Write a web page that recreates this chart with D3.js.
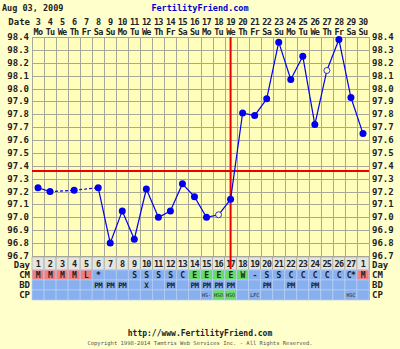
<!DOCTYPE html>
<head>
<meta charset="utf-8">
<script src="https://d3js.org/d3.v7.min.js"></script>
<style>
  body { margin: 0; background: #ffffcc; }
  text { font-family: "DejaVu Sans Mono", monospace; font-weight: bold; font-size: 9px; fill: #222; }
  .col { font-size: 8.5px; letter-spacing: -0.7px; }
</style>
</head>
<body>
<svg width="400" height="349"></svg>
<script>
// chart values
var dates = [3, 4, 5, 6, 7, 8, 9, 10, 11, 12, 13, 14, 15, 16, 17, 18, 19, 20, 21, 22, 23, 24, 25, 26, 27, 28, 29, 30];
var weekdays = ["Mo", "Tu", "We", "Th", "Fr", "Sa", "Su", "Mo", "Tu", "We", "Th", "Fr", "Sa", "Su",
                "Mo", "Tu", "We", "Th", "Fr", "Sa", "Su", "Mo", "Tu", "We", "Th", "Fr", "Sa", "Su"];
var cycleDays = [1, 2, 3, 4, 5, 6, 7, 8, 9, 10, 11, 12, 13, 14, 15, 16, 17, 18, 19, 20, 21, 22, 23, 24, 25, 26, 27, 1];
var temps = [97.23, 97.20, null, 97.21, null, 97.23, 96.80, 97.05, 96.83, 97.22, 97.00, 97.05, 97.26, 97.16,
             97.00, 97.02, 97.14, 97.81, 97.79, 97.92, 98.36, 98.07, 98.25, 97.72, 98.14, 98.38, 97.93, 97.65];
var openPoints = [16, 25];   // cycle days drawn with hollow marker
var cmCodes = ["M", "M", "M", "M", "L", "*", "", "", "S", "S", "S", "S", "C", "E",
               "E", "E", "E", "W", "-", "S", "S", "C", "C", "C", "C", "C", "C*", "M"];
var bdCodes = ["", "", "", "", "", "PM", "PM", "PM", "", "X", "", "PM", "", "PM",
               "PM", "PM", "PM", "", "", "PM", "", "PM", "", "PM", "", "", "", ""];
var cpCodes = ["", "", "", "", "", "", "", "", "", "", "", "", "", "",
               "HS-", "HSO", "HSO", "", "LFC", "", "", "", "", "", "", "", "HSC", ""];
var yTicks = [96.7, 96.8, 96.9, 97.0, 97.1, 97.2, 97.3, 97.4, 97.5, 97.6, 97.7, 97.8, 97.9, 98.0, 98.1, 98.2, 98.3, 98.4];
var coverline = 97.36;
var ovulationDay = 17;

var svg = d3.select("svg");
var plot = { left: 32, right: 369, top: 37, bottom: 256 };

var x = d3.scaleBand().domain(d3.range(dates.length)).range([plot.left, plot.right]);
var y = d3.scaleLinear().domain([96.7, 98.4]).range([plot.bottom, plot.top]);
var cx = function(i) { return x(i) + x.bandwidth() / 2; };

// header
svg.append("text").attr("x", 2).attr("y", 11).style("font-size", "8.5px").text("Aug 03, 2009");
svg.append("text").attr("x", 200).attr("y", 11).attr("text-anchor", "middle")
  .style("font-size", "8.5px").style("fill", "#0000cc").text("FertilityFriend.com");

// plot background + grid
svg.append("rect").attr("x", plot.left).attr("y", plot.top)
  .attr("width", plot.right - plot.left).attr("height", plot.bottom - plot.top).attr("fill", "#ffffbb");

var grid = svg.append("g").attr("stroke", "#a8a898").attr("stroke-width", 1);
grid.selectAll(".h").data(yTicks).enter().append("line")
  .attr("x1", plot.left).attr("x2", plot.right)
  .attr("y1", function(d) { return Math.round(y(d)) + 0.5; })
  .attr("y2", function(d) { return Math.round(y(d)) + 0.5; });
grid.selectAll(".v").data(d3.range(dates.length + 1)).enter().append("line")
  .attr("x1", function(d) { return Math.round(plot.left + d * x.bandwidth()) + 0.5; })
  .attr("x2", function(d) { return Math.round(plot.left + d * x.bandwidth()) + 0.5; })
  .attr("y1", plot.top).attr("y2", 300);

// y labels both sides
yTicks.forEach(function(t) {
  svg.append("text").attr("x", 29).attr("y", y(t) + 3).attr("text-anchor", "end").text(t.toFixed(1));
  svg.append("text").attr("x", 372).attr("y", y(t) + 3).text(t.toFixed(1));
});

// date header
svg.append("text").attr("x", 30).attr("y", 25).attr("text-anchor", "end").text("Date");
svg.selectAll(".date").data(dates).enter().append("text").attr("class", "col")
  .attr("x", function(d, i) { return cx(i); }).attr("y", 25).attr("text-anchor", "middle").text(function(d) { return d; });
svg.selectAll(".dow").data(weekdays).enter().append("text").attr("class", "col")
  .attr("x", function(d, i) { return cx(i); }).attr("y", 35).attr("text-anchor", "middle").text(function(d) { return d; });

// lower rows
var rows = [
  { name: "Day", top: 257, h: 13 },
  { name: "CM", top: 270, h: 10 },
  { name: "BD", top: 280, h: 10 },
  { name: "CP", top: 290, h: 10 }
];
function cellFill(row, i) {
  if (row === "Day") return "#e4e4e0";
  if (row === "CM") {
    if (cmCodes[i] === "M" || cmCodes[i] === "L") return "#f08080";
    if (cmCodes[i] === "E" || cmCodes[i] === "W") return "#66dd66";
  }
  if (row === "CP" && cpCodes[i] === "HSO") return "#66dd66";
  return "#88b0ee";
}
rows.forEach(function(r) {
  var g = svg.append("g");
  g.selectAll("rect").data(dates).enter().append("rect")
    .attr("x", function(d, i) { return x(i); }).attr("y", r.top)
    .attr("width", x.bandwidth()).attr("height", r.h)
    .attr("fill", function(d, i) { return cellFill(r.name, i); })
    .attr("stroke", r.name === "Day" ? "#a8a898" : "#b8cff4").attr("stroke-width", 0.7);
  svg.append("text").attr("x", 30).attr("y", r.top + r.h - 2.5).attr("text-anchor", "end").text(r.name);
  svg.append("text").attr("x", 372).attr("y", r.top + r.h - 2.5).text(r.name);
});
svg.selectAll(".cd").data(cycleDays).enter().append("text").attr("class", "col")
  .attr("x", function(d, i) { return cx(i); }).attr("y", 267).attr("text-anchor", "middle").text(function(d) { return d; });
svg.selectAll(".cm").data(cmCodes).enter().append("text")
  .attr("x", function(d, i) { return cx(i); }).attr("y", 278).attr("text-anchor", "middle")
  .style("font-size", "8px").style("letter-spacing", "-0.5px").text(function(d) { return d; });
svg.selectAll(".bd").data(bdCodes).enter().append("text")
  .attr("x", function(d, i) { return cx(i); }).attr("y", 288).attr("text-anchor", "middle")
  .style("font-size", "7.5px").style("letter-spacing", "-0.5px").text(function(d) { return d; });
svg.selectAll(".cp").data(cpCodes).enter().append("text")
  .attr("x", function(d, i) { return cx(i); }).attr("y", 297).attr("text-anchor", "middle")
  .style("font-size", "5px").style("font-weight", "normal").text(function(d) { return d; });

// coverline + ovulation line
svg.append("line").attr("x1", plot.left).attr("x2", plot.right)
  .attr("y1", y(coverline)).attr("y2", y(coverline)).attr("stroke", "#ee0000").attr("stroke-width", 2);
svg.append("line").attr("x1", cx(ovulationDay - 1)).attr("x2", cx(ovulationDay - 1))
  .attr("y1", plot.top).attr("y2", 269).attr("stroke", "#ee0000").attr("stroke-width", 2);

// temperature line: solid between neighbours, dashed across gaps
var pts = [];
temps.forEach(function(t, i) { if (t !== null) pts.push({ i: i, t: t }); });
for (var k = 1; k < pts.length; k++) {
  var a = pts[k - 1], b = pts[k];
  svg.append("line")
    .attr("x1", cx(a.i)).attr("y1", y(a.t)).attr("x2", cx(b.i)).attr("y2", y(b.t))
    .attr("stroke", "#0000ee").attr("stroke-width", 1.2)
    .attr("stroke-dasharray", b.i - a.i > 1 ? "3,2" : null);
}
svg.selectAll(".pt").data(pts).enter().append("circle")
  .attr("cx", function(d) { return cx(d.i); }).attr("cy", function(d) { return y(d.t); })
  .attr("r", function(d) { return openPoints.indexOf(d.i + 1) >= 0 ? 3 : 3.5; })
  .attr("fill", function(d) { return openPoints.indexOf(d.i + 1) >= 0 ? "#ffffbb" : "#0000ee"; })
  .attr("stroke", "#0000ee").attr("stroke-width", function(d) { return openPoints.indexOf(d.i + 1) >= 0 ? 0.8 : 0; });

// footer
svg.append("text").attr("x", 200).attr("y", 336).attr("text-anchor", "middle")
  .style("font-size", "8px").text("http://www.FertilityFriend.com");
svg.append("text").attr("x", 200).attr("y", 345).attr("text-anchor", "middle")
  .style("font-size", "5.5px").style("font-weight", "normal").style("fill", "#555")
  .text("Copyright 1998-2014 Tamtris Web Services Inc. - All Rights Reserved.");
</script>
</body>
</html>
